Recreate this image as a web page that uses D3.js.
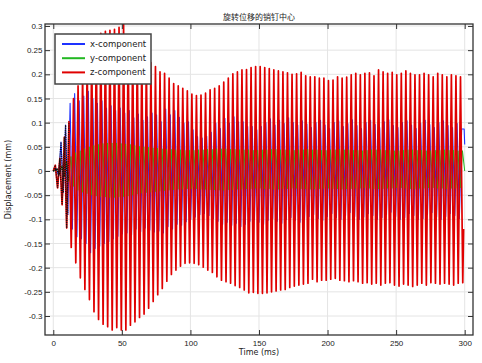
<!DOCTYPE html>
<html lang="en">
<head>
<meta charset="UTF-8">
<title>旋转位移的销钉中心</title>
<script src="https://d3js.org/d3.v7.min.js"></script>
<style>
  body { margin: 0; background: #fff; font-family: "DejaVu Sans", sans-serif; }
  .tick text { font-size: 8px; fill: #222; }
  .grid line { stroke: #e4e4e4; stroke-width: 1; }
</style>
</head>
<body>
<div id="chart"></div>
<script>
// Peak values read per oscillation cycle (one max and one min per cycle)
const period = 3.32; // ms between successive peaks of the same sign

// z-component (red)
const zTop = [0.012, 0.026, 0.07, 0.102, 0.150, 0.176, 0.205, 0.232, 0.255, 0.27,
  0.285, 0.289, 0.291, 0.293, 0.297, 0.303, 0.280, 0.266, 0.254, 0.244,
  0.233, 0.224, 0.216, 0.205, 0.202, 0.192, 0.181, 0.176, 0.171, 0.166,
  0.159, 0.156, 0.157, 0.161, 0.168, 0.171, 0.176, 0.184, 0.192, 0.201,
  0.205, 0.209, 0.210, 0.214, 0.216, 0.216, 0.214, 0.212, 0.209, 0.207,
  0.205, 0.203, 0.200, 0.201, 0.204, 0.197, 0.195, 0.195, 0.192, 0.192,
  0.187, 0.188, 0.195, 0.192, 0.194, 0.199, 0.202, 0.199, 0.202, 0.203,
  0.197, 0.209, 0.205, 0.202, 0.204, 0.199, 0.202, 0.207, 0.202, 0.199,
  0.199, 0.202, 0.199, 0.195, 0.202, 0.199, 0.195, 0.199, 0.197, 0.195];
const zBot = [-0.035, -0.07, -0.118, -0.158, -0.19, -0.221, -0.245, -0.266, -0.291, -0.307,
  -0.317, -0.322, -0.329, -0.324, -0.329, -0.329, -0.319, -0.312, -0.303, -0.296,
  -0.284, -0.27, -0.256, -0.243, -0.228, -0.214, -0.205, -0.197, -0.191, -0.19,
  -0.191, -0.194, -0.199, -0.205, -0.21, -0.219, -0.226, -0.229, -0.232, -0.237,
  -0.241, -0.246, -0.252, -0.251, -0.253, -0.253, -0.252, -0.25, -0.248, -0.246,
  -0.245, -0.241, -0.238, -0.236, -0.234, -0.232, -0.224, -0.229, -0.226, -0.226,
  -0.224, -0.222, -0.226, -0.227, -0.229, -0.227, -0.229, -0.232, -0.231, -0.234,
  -0.232, -0.236, -0.232, -0.231, -0.236, -0.238, -0.234, -0.236, -0.239, -0.236,
  -0.232, -0.236, -0.231, -0.232, -0.234, -0.232, -0.234, -0.236, -0.232, -0.231];

// x-component (blue)
const xTop = [0.005, 0.06, 0.095, 0.14, 0.16, 0.145, 0.155, 0.165, 0.15, 0.14,
  0.145, 0.13, 0.135, 0.125, 0.13, 0.12, 0.125, 0.11, 0.118, 0.105,
  0.112, 0.12, 0.116, 0.102, 0.128, 0.116, 0.125, 0.111, 0.099, 0.102,
  0.085, 0.071, 0.068, 0.072, 0.08, 0.099, 0.088, 0.109, 0.099, 0.112,
  0.102, 0.102, 0.092, 0.092, 0.085, 0.092, 0.1, 0.108, 0.095, 0.105,
  0.098, 0.11, 0.1, 0.095, 0.104, 0.097, 0.09, 0.1, 0.105, 0.095,
  0.088, 0.1, 0.104, 0.092, 0.098, 0.106, 0.094, 0.088, 0.1, 0.105,
  0.096, 0.09, 0.102, 0.106, 0.094, 0.09, 0.1, 0.104, 0.095, 0.088,
  0.099, 0.105, 0.096, 0.09, 0.1, 0.104, 0.094, 0.09, 0.098, 0.087];
const xBot = [-0.01, -0.045, -0.09, -0.12, -0.136, -0.14, -0.15, -0.169, -0.16, -0.155,
  -0.15, -0.146, -0.14, -0.135, -0.13, -0.128, -0.132, -0.12, -0.125, -0.118,
  -0.122, -0.126, -0.124, -0.128, -0.115, -0.12, -0.11, -0.112, -0.105, -0.1,
  -0.095, -0.09, -0.088, -0.092, -0.098, -0.104, -0.11, -0.106, -0.112, -0.108,
  -0.115, -0.11, -0.104, -0.1, -0.106, -0.11, -0.102, -0.098, -0.104, -0.108,
  -0.1, -0.096, -0.102, -0.106, -0.098, -0.094, -0.09, -0.098, -0.102, -0.094,
  -0.088, -0.096, -0.1, -0.092, -0.086, -0.094, -0.1, -0.095, -0.088, -0.092,
  -0.1, -0.096, -0.09, -0.085, -0.094, -0.1, -0.096, -0.088, -0.092, -0.1,
  -0.098, -0.09, -0.086, -0.095, -0.1, -0.094, -0.088, -0.092, -0.098, -0.094];

// y-component (green)
const yTop = [0.004, 0.01, 0.02, 0.03, 0.038, 0.042, 0.046, 0.05, 0.053, 0.055,
  0.057, 0.058, 0.058, 0.058, 0.057, 0.056, 0.055, 0.053, 0.051, 0.05,
  0.049, 0.048, 0.047, 0.046, 0.045, 0.045, 0.044, 0.044, 0.043, 0.043,
  0.043, 0.044, 0.044, 0.045, 0.045, 0.046, 0.046, 0.046, 0.045, 0.045,
  0.044, 0.044, 0.044, 0.043, 0.043, 0.044, 0.044, 0.045, 0.045, 0.044,
  0.044, 0.043, 0.043, 0.044, 0.044, 0.045, 0.044, 0.044, 0.043, 0.043,
  0.044, 0.044, 0.045, 0.044, 0.044, 0.043, 0.043, 0.042, 0.043, 0.044,
  0.044, 0.044, 0.043, 0.043, 0.042, 0.042, 0.043, 0.044, 0.044, 0.043,
  0.043, 0.042, 0.042, 0.043, 0.043, 0.044, 0.043, 0.043, 0.042, 0.042];
const yBot = [-0.005, -0.012, -0.022, -0.032, -0.04, -0.044, -0.047, -0.05, -0.052, -0.053,
  -0.054, -0.055, -0.055, -0.054, -0.053, -0.052, -0.05, -0.048, -0.046, -0.045,
  -0.044, -0.043, -0.042, -0.041, -0.04, -0.039, -0.038, -0.038, -0.037, -0.037,
  -0.037, -0.038, -0.038, -0.039, -0.039, -0.04, -0.04, -0.039, -0.039, -0.038,
  -0.038, -0.037, -0.037, -0.036, -0.036, -0.037, -0.037, -0.038, -0.038, -0.037,
  -0.037, -0.036, -0.036, -0.037, -0.037, -0.038, -0.037, -0.037, -0.036, -0.036,
  -0.037, -0.037, -0.038, -0.037, -0.037, -0.036, -0.036, -0.035, -0.036, -0.037,
  -0.037, -0.037, -0.036, -0.036, -0.035, -0.035, -0.036, -0.037, -0.037, -0.036,
  -0.036, -0.035, -0.035, -0.036, -0.036, -0.037, -0.036, -0.036, -0.035, -0.035];

const xTicks = [0, 50, 100, 150, 200, 250, 300];
const yTicks = [-0.3, -0.25, -0.2, -0.15, -0.1, -0.05, 0, 0.05, 0.1, 0.15, 0.2, 0.25, 0.3];

const series = [
  { name: "x-component", color: "#1e32ff", top: xTop, bot: xBot, phase: 2.3, end: [[299.6, 0.087], [300, 0.055]], w: 1.1 },
  { name: "y-component", color: "#22b822", top: yTop, bot: yBot, phase: 2.9, end: [[300, 0.0]], w: 1.0 },
  { name: "z-component", color: "#e00000", top: zTop, bot: zBot, phase: 1.46, end: [[299.2, -0.12]], w: 1.7 }
];

// Build peak-to-peak paths
series.forEach(s => {
  const pts = [[0, 0]];
  const n = Math.min(s.top.length, s.bot.length);
  for (let k = 0; k < n; k++) {
    pts.push([s.phase + period * k, s.top[k]]);
    pts.push([s.phase + period * (k + 0.5), s.bot[k]]);
  }
  s.points = pts.filter(p => p[0] < 299).concat(s.end);
});

const W = 482, H = 363;
const margin = { top: 24, right: 9, bottom: 28, left: 45 };
const width = W - margin.left - margin.right;
const height = H - margin.top - margin.bottom;

const svg = d3.select("#chart").append("svg")
  .attr("width", W).attr("height", H);

const g = svg.append("g")
  .attr("transform", `translate(${margin.left},${margin.top})`);

const x = d3.scaleLinear().domain([-6.05, 306.06]).range([0, width]);
const y = d3.scaleLinear().domain([-0.3393, 0.3041]).range([height, 0]);

// grid
g.append("g").attr("class", "grid")
  .selectAll("line").data(xTicks).join("line")
  .attr("x1", d => x(d)).attr("x2", d => x(d))
  .attr("y1", 0).attr("y2", height);
g.append("g").attr("class", "grid")
  .selectAll("line").data(yTicks).join("line")
  .attr("y1", d => y(d)).attr("y2", d => y(d))
  .attr("x1", 0).attr("x2", width);

// data
g.append("clipPath").attr("id", "clip")
  .append("rect").attr("width", width).attr("height", height);

const line = d3.line().x(d => x(d[0])).y(d => y(d[1]));
const plot = g.append("g").attr("clip-path", "url(#clip)");

series.forEach(s => {
  plot.append("path")
    .attr("d", line(s.points))
    .attr("fill", "none")
    .attr("stroke", s.color)
    .attr("stroke-width", s.w)
    .attr("stroke-linejoin", "round");
});

// early dense time steps show up as dark dotted strokes
series.forEach(s => {
  plot.append("path")
    .attr("d", line(s.points.filter(p => p[0] <= 11.5)))
    .attr("fill", "none")
    .attr("stroke", "#111")
    .attr("stroke-width", 1.3)
    .attr("stroke-dasharray", "1,1.2");
});

// axes (ticks pointing inward on all four sides)
const fmt = d => d3.format("")(+d.toFixed(2)).replace("−", "-");
g.append("g").attr("transform", `translate(0,${height})`)
  .call(d3.axisBottom(x).tickValues(xTicks).tickSize(-5).tickPadding(5))
  .call(a => a.select(".domain").remove());
g.append("g")
  .call(d3.axisTop(x).tickValues(xTicks).tickSize(-5).tickFormat(""))
  .call(a => a.select(".domain").remove());
g.append("g")
  .call(d3.axisLeft(y).tickValues(yTicks).tickSize(-5).tickPadding(2.5).tickFormat(fmt))
  .call(a => a.select(".domain").remove());
g.append("g").attr("transform", `translate(${width},0)`)
  .call(d3.axisRight(y).tickValues(yTicks).tickSize(-5).tickFormat(""))
  .call(a => a.select(".domain").remove());
g.selectAll(".tick line").attr("stroke", "#333");

g.append("rect")
  .attr("width", width).attr("height", height)
  .attr("fill", "none").attr("stroke", "#333").attr("stroke-width", 1.3);

// titles
svg.append("text")
  .attr("x", margin.left + width / 2).attr("y", 19.5)
  .attr("text-anchor", "middle")
  .style("font-family", "'Noto Sans CJK SC', sans-serif")
  .style("font-size", "8px").attr("fill", "#222")
  .text("旋转位移的销钉中心");

svg.append("text")
  .attr("x", margin.left + width / 2).attr("y", 355)
  .attr("text-anchor", "middle")
  .style("font-size", "8px").attr("fill", "#222")
  .text("Time (ms)");

svg.append("text")
  .attr("transform", `translate(10.5,${margin.top + height / 2}) rotate(-90)`)
  .attr("text-anchor", "middle")
  .style("font-size", "8px").attr("fill", "#222")
  .text("Displacement (mm)");

// legend
const lg = svg.append("g").attr("transform", "translate(55,34)");
lg.append("rect").attr("width", 96).attr("height", 50)
  .attr("fill", "#fff").attr("stroke", "#444").attr("stroke-width", 1.5);
series.forEach((s, i) => {
  const yy = 10 + i * 14.2;
  lg.append("line").attr("x1", 7).attr("x2", 30).attr("y1", yy).attr("y2", yy)
    .attr("stroke", s.color).attr("stroke-width", 2);
  lg.append("text").attr("x", 35).attr("y", yy + 3)
    .style("font-size", "8.5px").attr("fill", "#222")
    .text(s.name);
});
</script>
</body>
</html>
